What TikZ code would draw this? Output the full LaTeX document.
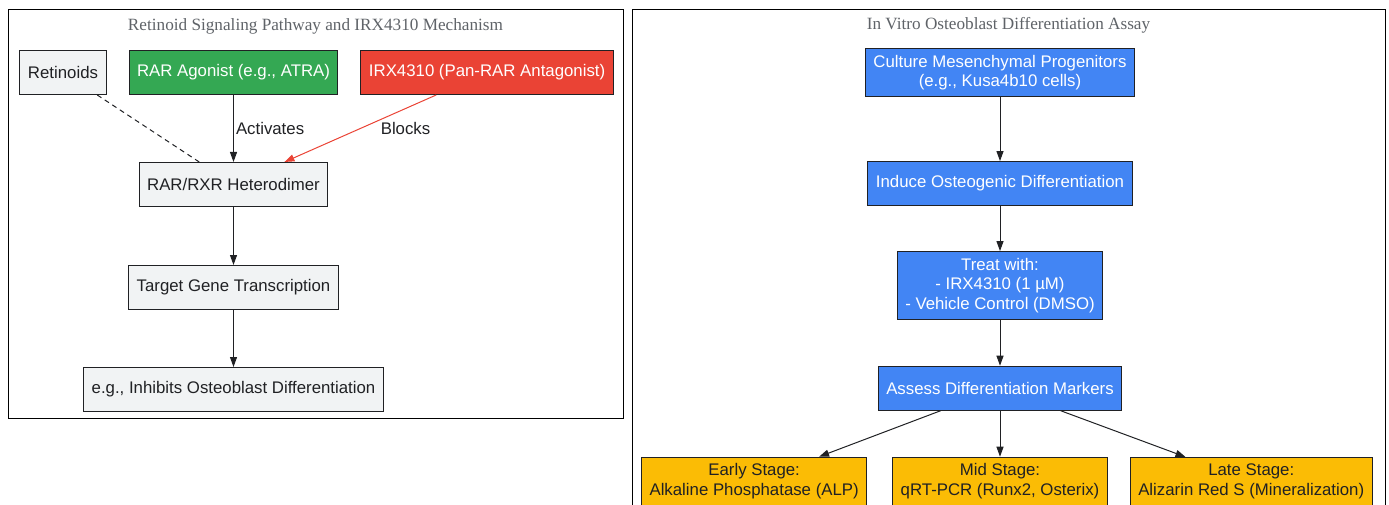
\documentclass[tikz,border=0pt]{standalone}
\usepackage{fontspec}
\setmainfont{Liberation Sans}
\newfontfamily\capfont{Liberation Serif}
\usetikzlibrary{positioning, arrows.meta}

\definecolor{inkdark}{HTML}{202124}
\definecolor{capgray}{HTML}{5F6368}
\definecolor{paleGray}{HTML}{F1F3F4}
\definecolor{gGreen}{HTML}{34A853}
\definecolor{gRed}{HTML}{EA4335}
\definecolor{gBlue}{HTML}{4285F4}
\definecolor{gYellow}{HTML}{FBBC05}

\newcommand{\nodefont}{\fontsize{16.8}{19.5}\selectfont}
\newcommand{\capsize}{\fontsize{17.2}{20}\selectfont}

\begin{document}
\begin{tikzpicture}[x=1pt, y=-1pt, line width=1pt, >={Triangle[length=10pt, width=7pt]},
	main/.style = {draw=inkdark, fill=paleGray, text=inkdark, align=center, font=\nodefont,
		minimum height=44pt, inner xsep=8pt, inner ysep=6.5pt},
	greenbox/.style = {main, fill=gGreen, text=white},
	redbox/.style = {main, fill=gRed, text=white},
	bluebox/.style = {main, fill=gBlue, text=white},
	yellowbox/.style = {main, fill=gYellow},
	lbl/.style = {font=\nodefont, text=inkdark, inner sep=2pt},
	cluster/.style = {draw=black},
	caption/.style = {font=\capfont\capsize, text=capgray}]
	\useasboundingbox (0,0) rectangle (1389,505);

	% retinoid pathway
	\draw[cluster] (8,10) rectangle (623,418);
	\node[caption] (captionL) at (315.5,26) {Retinoid Signaling Pathway and IRX4310 Mechanism};

	\node[greenbox] (agonist) at (233.5,72.5) {RAR Agonist (e.g., ATRA)};
	\node[main] (retinoids) [left=22pt of agonist] {Retinoids};
	\node[redbox] (irx) [right=22pt of agonist] {IRX4310 (Pan-RAR Antagonist)};
	\node[main] (dimer) [below=67pt of agonist] {RAR/RXR Heterodimer};
	\node[main] (transcription) [below=58pt of dimer] {Target Gene Transcription};
	\node[main] (outcome) [below=57pt of transcription] {e.g., Inhibits Osteoblast Differentiation};

	\draw[dash pattern=on 5pt off 4pt, inkdark] (retinoids) -- (dimer);
	\draw[->, inkdark] (agonist) -- node[lbl, right] {Activates} (dimer);
	\draw[->, gRed] (irx) -- node[lbl, right=18pt] {Blocks} (dimer);
	\draw[->, inkdark] (dimer) -- (transcription);
	\draw[->, inkdark] (transcription) -- (outcome);

	% osteoblast assay
	\draw[cluster] (632,10) rectangle (1385,516);
	\node[caption] (captionR) at (1008.5,25) {In Vitro Osteoblast Differentiation Assay};

	\node[bluebox] (culture) at (1000,72.5) {Culture Mesenchymal Progenitors\\(e.g., Kusa4b10 cells)};
	\node[bluebox] (induce) [below=64pt of culture] {Induce Osteogenic Differentiation};
	\node[bluebox] (treat) [below=45pt of induce] {Treat with:\\- IRX4310 (1 µM)\\- Vehicle Control (DMSO)};
	\node[bluebox] (assess) [below=46pt of treat] {Assess Differentiation Markers};
	\node[yellowbox] (mid) [below=46pt of assess] {Mid Stage:\\qRT-PCR (Runx2, Osterix)};
	\node[yellowbox] (early) [left=25pt of mid] {Early Stage:\\Alkaline Phosphatase (ALP)};
	\node[yellowbox] (late) [right=22pt of mid] {Late Stage:\\Alizarin Red S (Mineralization)};

	\draw[->, inkdark] (culture) -- (induce);
	\draw[->, inkdark] (induce) -- (treat);
	\draw[->, inkdark] (treat) -- (assess);
	\draw[->, inkdark] (assess) -- (early);
	\draw[->, inkdark] (assess) -- (mid);
	\draw[->, inkdark] (assess) -- (late);

\end{tikzpicture}
\end{document}
